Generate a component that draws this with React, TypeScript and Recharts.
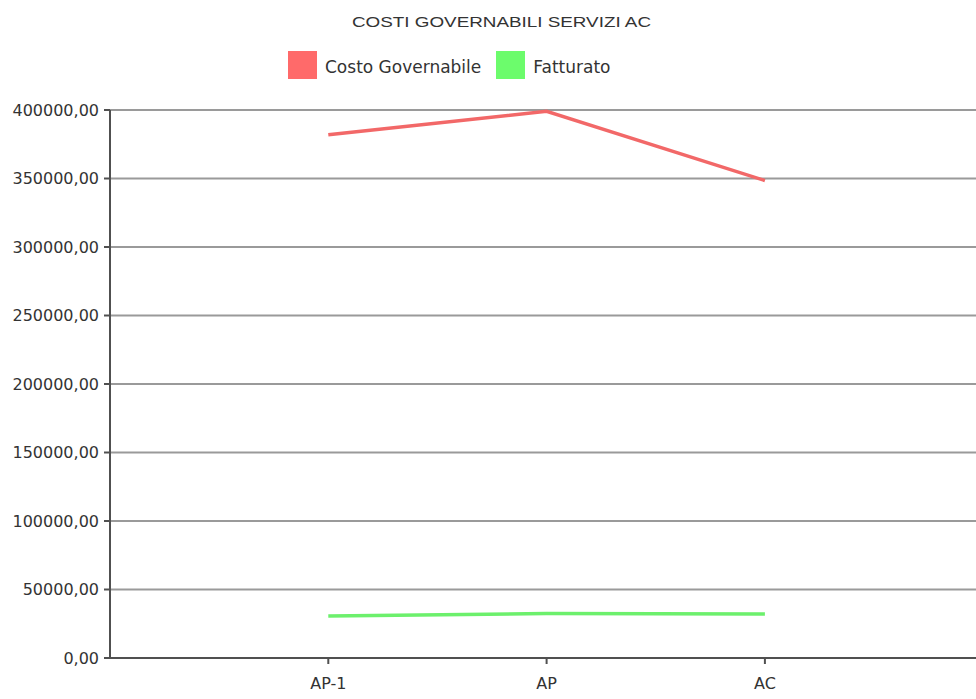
import React from 'react';
import { LineChart, Line, XAxis, YAxis, CartesianGrid, Legend, Customized } from 'recharts';

const categories = ['AP-1', 'AP', 'AC'];
const costoGovernabile = [382000, 399000, 348500];
const fatturato = [30700, 32500, 32100];
const yTicks = [0, 50000, 100000, 150000, 200000, 250000, 300000, 350000, 400000];
const title = 'COSTI GOVERNABILI SERVIZI AC';

const RED = '#f26868';
const GREEN = '#6cf06c';
const RED_ICON = '#ff6a6a';
const GREEN_ICON = '#6cfc6c';

const data = categories.map((c, i) => ({
  x: i + 1,
  name: c,
  costo: costoGovernabile[i],
  fatturato: fatturato[i],
}));

const fmtY = (v: number) => v.toFixed(2).replace('.', ',');
const fmtX = (v: number) => categories[v - 1] ?? '';

const Title = () => (
  <text
    x={352}
    y={27}
    textLength={299}
    lengthAdjust="spacingAndGlyphs"
    fontFamily="'Liberation Sans', Arial, sans-serif"
    fontSize={15}
    fill="#333"
  >
    {title}
  </text>
);

const LegendContent = () => (
  <div style={{ display: 'flex', alignItems: 'flex-start', height: 28, fontFamily: "'DejaVu Sans', sans-serif", fontSize: 17, color: '#333' }}>
    <span style={{ display: 'inline-block', width: 29, height: 28, background: RED_ICON }} />
    <span style={{ marginLeft: 8, marginRight: 15, lineHeight: '20px', paddingTop: 6 }}>Costo Governabile</span>
    <span style={{ display: 'inline-block', width: 29, height: 28, background: GREEN_ICON }} />
    <span style={{ marginLeft: 8, lineHeight: '20px', paddingTop: 6 }}>Fatturato</span>
  </div>
);

export default function App() {
  return (
    <div style={{ position: 'absolute', left: 0, top: 0, width: 976, height: 699, overflow: 'hidden', background: '#fff' }}>
      <LineChart width={976} height={699} data={data} margin={{ top: 82, right: 0, bottom: 0, left: 0 }}>
        <Customized component={Title} />
        <Legend
          verticalAlign="top"
          content={LegendContent}
          wrapperStyle={{ top: 51, left: 288, width: 'auto', height: 28 }}
        />
        <CartesianGrid vertical={false} stroke="#9a9a9a" strokeWidth={2} />
        <XAxis
          dataKey="x"
          type="number"
          domain={[0, 3.967]}
          ticks={[1, 2, 3]}
          tickFormatter={fmtX}
          height={41}
          tickSize={6}
          tickMargin={14}
          axisLine={{ stroke: '#505050', strokeWidth: 2 }}
          tickLine={{ stroke: '#505050', strokeWidth: 2 }}
          tick={{ fill: '#333', fontSize: 16, fontFamily: "'DejaVu Sans', sans-serif" }}
          allowDataOverflow
        />
        <YAxis
          type="number"
          domain={[0, 400000]}
          ticks={yTicks}
          tickFormatter={fmtY}
          width={110}
          tickSize={6}
          tickMargin={5}
          axisLine={{ stroke: '#505050', strokeWidth: 2 }}
          tickLine={{ stroke: '#505050', strokeWidth: 2 }}
          tick={{ fill: '#333', fontSize: 16, fontFamily: "'DejaVu Sans', sans-serif" }}
          interval={0}
        />
        <Line type="linear" dataKey="costo" name="Costo Governabile" stroke={RED} strokeWidth={3.5} dot={false} isAnimationActive={false} />
        <Line type="linear" dataKey="fatturato" name="Fatturato" stroke={GREEN} strokeWidth={3.5} dot={false} isAnimationActive={false} />
      </LineChart>
    </div>
  );
}
